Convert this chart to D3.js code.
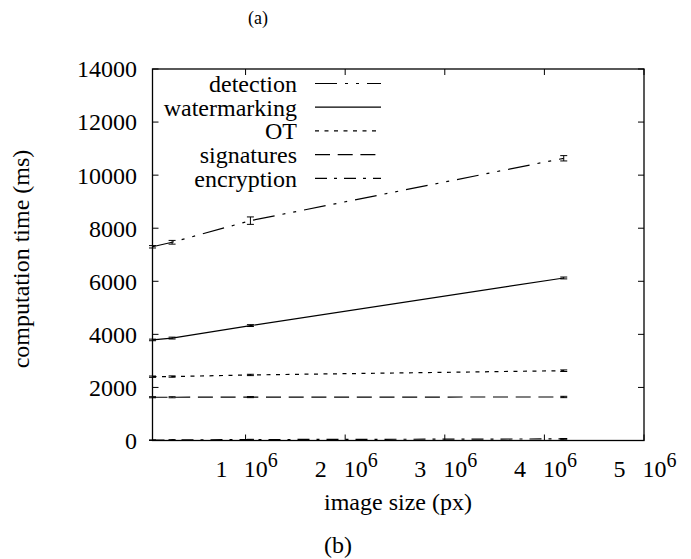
<!DOCTYPE html>
<html>
<head>
<meta charset="utf-8">
<script src="https://cdn.jsdelivr.net/npm/d3@7"></script>
<style>
  body { margin: 0; background: #fff; }
  text { font-family: "Liberation Serif", "Times New Roman", serif; fill: #000; }
</style>
</head>
<body>
<div id="chart"></div>
<script>
// image sizes in pixels (256^2, 512^2, 1024^2, 2048^2)
const sizes = [65536, 262144, 1048576, 4194304];

// series values (ms) and error bar half-widths
const seriesNames = ["detection", "watermarking", "OT", "signatures", "encryption"];
const detection = [7300, 7470, 8285, 10635];
const detectionErr = [45, 70, 140, 100];
const watermarking = [3790, 3860, 4330, 6125];
const watermarkingErr = [30, 35, 35, 35];
const ot = [2405, 2410, 2470, 2630];
const otErr = [25, 25, 25, 30];
const signatures = [1630, 1630, 1635, 1640];
const signaturesErr = [20, 20, 20, 25];
const encryption = [12, 20, 35, 60];
const encryptionErr = [10, 10, 10, 15];

const yTicks = [0, 2000, 4000, 6000, 8000, 10000, 12000, 14000];
const xTicks = [1, 2, 3, 4, 5];

const width = 691, height = 559;
const plot = { left: 152.5, right: 644, top: 69, bottom: 440.5 };

const svg = d3.select("#chart").append("svg")
    .attr("width", width)
    .attr("height", height)
    .style("background", "#fff");

const x = d3.scaleLinear()
    .domain([65536, 5e6])
    .range([plot.left, plot.right]);

const y = d3.scaleLinear()
    .domain([0, 14000])
    .range([plot.bottom, plot.top]);

// dash patterns per series (gnuplot style)
const dashes = {
    detection: "22,8,3,8,3,8",
    watermarking: null,
    OT: "4,5.5",
    signatures: "15,7.7",
    encryption: "12,7,3,7"
};

const series = [
    { name: "detection", values: detection, err: detectionErr },
    { name: "watermarking", values: watermarking, err: watermarkingErr },
    { name: "OT", values: ot, err: otErr },
    { name: "signatures", values: signatures, err: signaturesErr },
    { name: "encryption", values: encryption, err: encryptionErr }
];

// frame
svg.append("rect")
    .attr("x", plot.left)
    .attr("y", plot.top)
    .attr("width", plot.right - plot.left)
    .attr("height", plot.bottom - plot.top)
    .attr("fill", "none")
    .attr("stroke", "#000")
    .attr("stroke-width", 1.3);

// y ticks (left and mirrored right)
const tickLen = 6;
yTicks.forEach(t => {
    svg.append("line")
        .attr("x1", plot.left).attr("x2", plot.left + tickLen)
        .attr("y1", y(t)).attr("y2", y(t))
        .attr("stroke", "#000");
    svg.append("line")
        .attr("x1", plot.right).attr("x2", plot.right - tickLen)
        .attr("y1", y(t)).attr("y2", y(t))
        .attr("stroke", "#000");
    svg.append("text")
        .attr("x", 137)
        .attr("y", y(t))
        .attr("dy", "0.35em")
        .attr("text-anchor", "end")
        .style("font-size", "24px")
        .text(t);
});

// x ticks (bottom and mirrored top)
xTicks.forEach(t => {
    const px = x(t * 1e6);
    svg.append("line")
        .attr("x1", px).attr("x2", px)
        .attr("y1", plot.bottom).attr("y2", plot.bottom - tickLen)
        .attr("stroke", "#000");
    svg.append("line")
        .attr("x1", px).attr("x2", px)
        .attr("y1", plot.top).attr("y2", plot.top + tickLen)
        .attr("stroke", "#000");
    const lab = svg.append("text")
        .attr("x", px + 1)
        .attr("y", 477)
        .attr("text-anchor", "middle")
        .style("font-size", "24px");
    lab.append("tspan").text(t);
    lab.append("tspan").attr("dx", 17).text("10");
    lab.append("tspan")
        .attr("dy", -10)
        .style("font-size", "20px")
        .text("6");
});

// lines
const line = d3.line()
    .x((d, i) => x(sizes[i]))
    .y(d => y(d));

series.forEach(s => {
    svg.append("path")
        .datum(s.values)
        .attr("d", line)
        .attr("fill", "none")
        .attr("stroke", "#000")
        .attr("stroke-width", 1.2)
        .attr("stroke-dasharray", dashes[s.name]);

    // error bars
    const cap = 3.5;
    s.values.forEach((v, i) => {
        const px = x(sizes[i]);
        const g = svg.append("g").attr("stroke", "#000").attr("stroke-width", 1);
        g.append("line")
            .attr("x1", px).attr("x2", px)
            .attr("y1", y(v - s.err[i])).attr("y2", y(v + s.err[i]));
        g.append("line")
            .attr("x1", px - cap).attr("x2", px + cap)
            .attr("y1", y(v - s.err[i])).attr("y2", y(v - s.err[i]));
        g.append("line")
            .attr("x1", px - cap).attr("x2", px + cap)
            .attr("y1", y(v + s.err[i])).attr("y2", y(v + s.err[i]));
    });
});

// legend
const legendTop = 83.5, legendStep = 23.7;
seriesNames.forEach((n, i) => {
    const ly = legendTop + i * legendStep;
    svg.append("text")
        .attr("x", 297)
        .attr("y", ly)
        .attr("dy", "0.35em")
        .attr("text-anchor", "end")
        .style("font-size", "24px")
        .text(n);
    svg.append("line")
        .attr("x1", 315).attr("x2", 381)
        .attr("y1", ly).attr("y2", ly)
        .attr("stroke", "#000")
        .attr("stroke-width", 1.2)
        .attr("stroke-dasharray", dashes[n]);
});

// axis labels
svg.append("text")
    .attr("x", 398)
    .attr("y", 510)
    .attr("text-anchor", "middle")
    .style("font-size", "24px")
    .text("image size (px)");

svg.append("text")
    .attr("transform", "translate(29,259) rotate(-90)")
    .attr("text-anchor", "middle")
    .style("font-size", "24px")
    .text("computation time (ms)");

// sub-figure captions
svg.append("text")
    .attr("x", 258)
    .attr("y", 24)
    .attr("text-anchor", "middle")
    .style("font-size", "18px")
    .text("(a)");

svg.append("text")
    .attr("x", 338)
    .attr("y", 553)
    .attr("text-anchor", "middle")
    .style("font-size", "24px")
    .text("(b)");
</script>
</body>
</html>
